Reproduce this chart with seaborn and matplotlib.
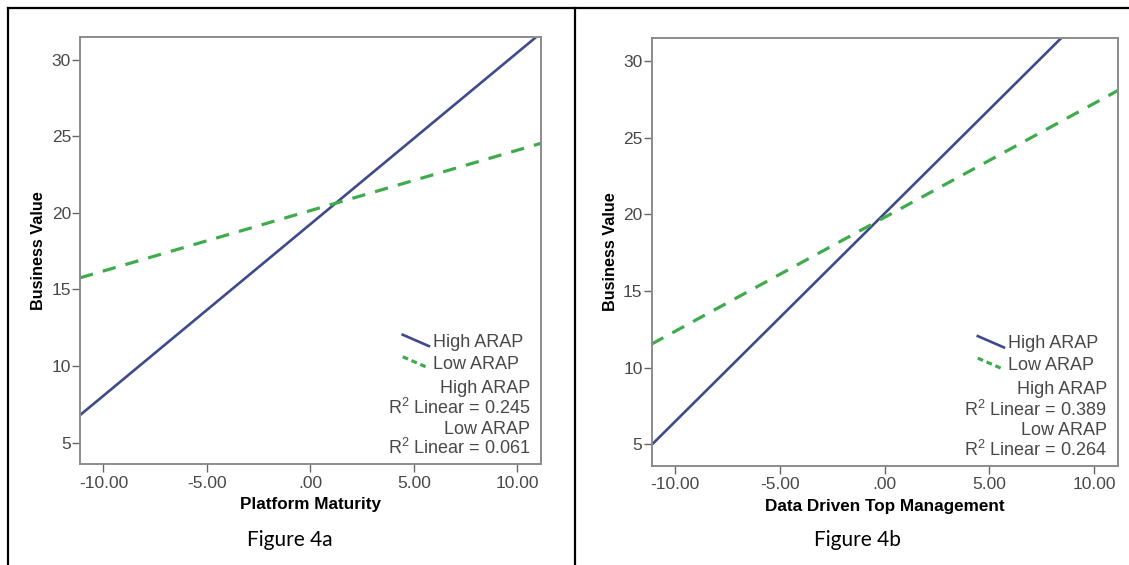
import pandas as pd
import seaborn as sns
import matplotlib
matplotlib.use("Agg")
import matplotlib.pyplot as plt
from matplotlib.lines import Line2D
from matplotlib.legend_handler import HandlerLine2D

# end points of the fitted lines
pm_high_x = [-11.13, 10.92]
pm_high_y = [6.8, 31.48]
pm_low_x = [-11.13, 11.15]
pm_low_y = [15.76, 24.54]

dt_high_x = [-11.12, 8.45]
dt_high_y = [4.95, 31.53]
dt_low_x = [-11.12, 11.12]
dt_low_y = [11.53, 28.07]

r2_4a = ["0.245", "0.061"]
r2_4b = ["0.389", "0.264"]
groups = ["High ARAP", "Low ARAP"]

x_ticks = [-10, -5, 0, 5, 10]
x_tick_labels = ["-10.00", "-5.00", ".00", "5.00", "10.00"]
y_ticks = [5, 10, 15, 20, 25, 30]

BLUE = "#3f4a8c"
GREEN = "#3fab4c"
GREY = "#8c8c8c"
TXT = "#484848"

plt.rcParams["font.family"] = ["Liberation Sans", "DejaVu Sans"]
plt.rcParams["mathtext.fontset"] = "custom"
plt.rcParams["mathtext.rm"] = "Liberation Sans"
plt.rcParams["mathtext.it"] = "Liberation Sans"


class DiagHandler(HandlerLine2D):
    """legend handle drawn as a short sloped line, like SPSS does"""
    def create_artists(self, legend, orig_handle, xdescent, ydescent,
                       width, height, fontsize, trans):
        line = Line2D([-xdescent, width - xdescent],
                      [height * 0.95 - ydescent, height * 0.05 - ydescent])
        self.update_prop(line, orig_handle, legend)
        line.set_transform(trans)
        return [line]


def draw_panel(ax, hx, hy, lx, ly, r2, xlabel, xlim, ylim):
    high = pd.DataFrame({"x": hx, "y": hy})
    low = pd.DataFrame({"x": lx, "y": ly})
    sns.lineplot(data=high, x="x", y="y", color=BLUE, linewidth=1.9, ax=ax)
    sns.lineplot(data=low, x="x", y="y", color=GREEN, linewidth=2.3,
                 linestyle=(0, (4.2, 3.2)), ax=ax)
    ax.set_xlim(xlim)
    ax.set_ylim(ylim)
    ax.set_xticks(x_ticks)
    ax.set_xticklabels(x_tick_labels)
    ax.set_yticks(y_ticks)
    for s in ax.spines.values():
        s.set_color(GREY)
        s.set_linewidth(1.4)
    ax.tick_params(axis="y", length=5.5, width=1, color="#666666", pad=1,
                   labelsize=12.5, labelcolor=TXT)
    ax.tick_params(axis="x", length=5.5, width=1, color="#666666", pad=3,
                   labelsize=12.5, labelcolor=TXT)
    ax.set_xlabel(xlabel, fontsize=12.3, fontweight="bold", color="black")
    ax.set_ylabel("Business Value", fontsize=11.7, fontweight="bold", color="black")
    ax.xaxis.set_label_coords(0.5, -0.078)
    ax.yaxis.set_label_coords(-0.073, 0.5)

    handles = [Line2D([], [], color=BLUE, lw=1.9),
               Line2D([], [], color=GREEN, lw=2.3, ls=(0, (1.8, 1.2)))]
    ax.legend(handles, groups, loc="upper left", bbox_to_anchor=(0.70, 0.305),
              frameon=False, fontsize=13, handlelength=1.45, handletextpad=0.25,
              labelspacing=0.28, borderpad=0, borderaxespad=0,
              labelcolor=TXT, handler_map={Line2D: DiagHandler()})

    lines = [groups[0], "R$^2$ Linear = " + r2[0],
             groups[1], "R$^2$ Linear = " + r2[1]]
    ys = [0.1775, 0.131, 0.0815, 0.037]
    for t, y in zip(lines, ys):
        ax.text(0.977, y, t, transform=ax.transAxes, ha="right", va="center",
                fontsize=13, color=TXT)


fig = plt.figure(figsize=(11.29, 5.65), dpi=100)
ax1 = fig.add_axes([0.0709, 0.1788, 0.4083, 0.7558])
ax2 = fig.add_axes([0.5771, 0.1759, 0.4128, 0.7575])

draw_panel(ax1, pm_high_x, pm_high_y, pm_low_x, pm_low_y, r2_4a,
           "Platform Maturity", (-11.13, 11.15), (3.61, 31.48))
draw_panel(ax2, dt_high_x, dt_high_y, dt_low_x, dt_low_y, r2_4b,
           "Data Driven Top Management", (-11.12, 11.12), (3.6, 31.53))

fig.text(0.2569, 0.0434, "Figure 4a", ha="center", va="center",
         fontsize=15, family=["Lato", "DejaVu Sans"])
fig.text(0.7597, 0.0434, "Figure 4b", ha="center", va="center",
         fontsize=15, family=["Lato", "DejaVu Sans"])

# outer table-like frame
frame = dict(transform=fig.transFigure, color="black", lw=1.6)
fig.add_artist(Line2D([7.5 / 1129, 1], [1 - 8 / 565, 1 - 8 / 565], **frame))
fig.add_artist(Line2D([7.5 / 1129, 7.5 / 1129], [0, 1 - 8 / 565], **frame))
fig.add_artist(Line2D([575 / 1129, 575 / 1129], [0, 1 - 8 / 565], **frame))

fig.savefig("out.png", dpi=100, facecolor="white")
